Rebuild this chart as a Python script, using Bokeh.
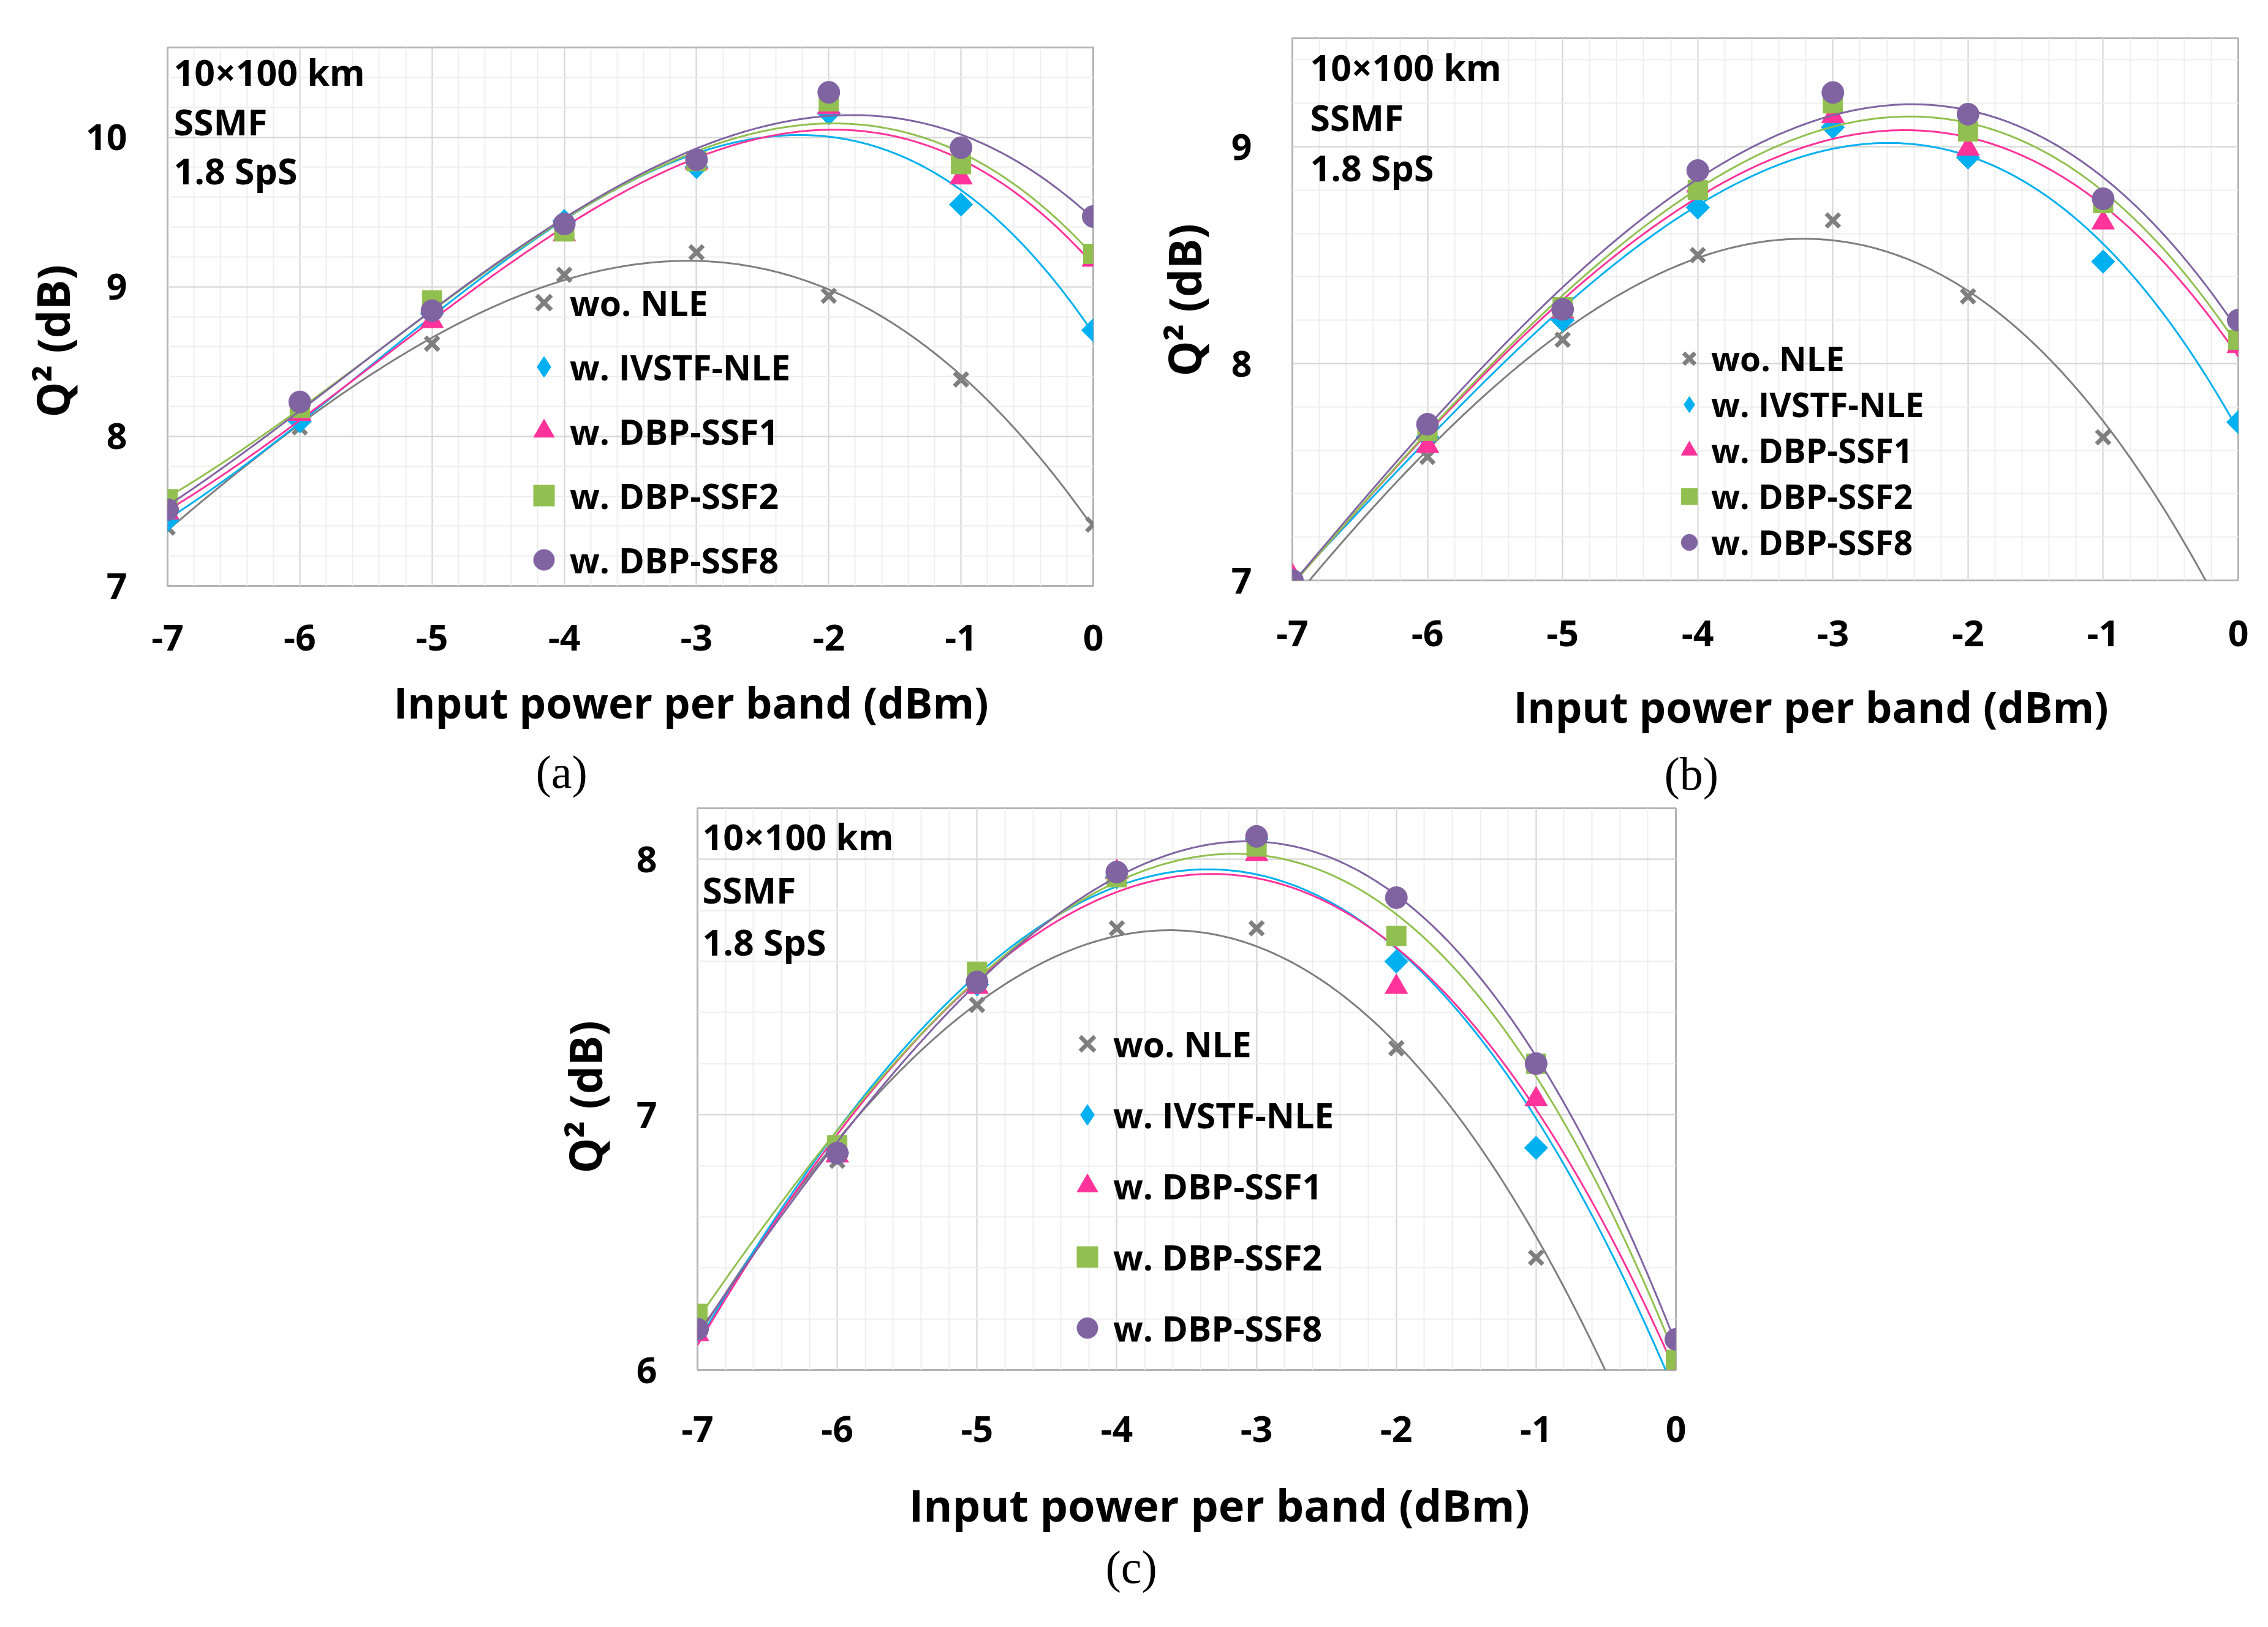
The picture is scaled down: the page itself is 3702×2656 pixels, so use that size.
import numpy as np
from bokeh.plotting import figure
from bokeh.models import Range1d, SingleIntervalTicker, Legend, LegendItem, Label, Spacer, Title
from bokeh.layouts import row, column
from bokeh.embed import file_html
from bokeh.resources import INLINE

# ---------------- data ----------------
power = [-7, -6, -5, -4, -3, -2, -1, 0]
series_names = ["wo. NLE", "w. IVSTF-NLE", "w. DBP-SSF1", "w. DBP-SSF2", "w. DBP-SSF8"]
x_ticks = [-7, -6, -5, -4, -3, -2, -1, 0]

a_wo = [7.39, 8.06, 8.62, 9.08, 9.23, 8.94, 8.38, 7.41]
a_ivstf = [7.44, 8.10, 8.82, 9.44, 9.80, 10.16, 9.55, 8.71]
a_ssf1 = [7.49, 8.15, 8.77, 9.35, 9.83, 10.20, 9.73, 9.18]
a_ssf2 = [7.58, 8.19, 8.91, 9.37, 9.84, 10.24, 9.82, 9.22]
a_ssf8 = [7.51, 8.23, 8.84, 9.42, 9.85, 10.30, 9.93, 9.47]

b_wo = [6.93, 7.57, 8.11, 8.50, 8.66, 8.31, 7.66, 6.75]
b_ivstf = [7.00, 7.66, 8.20, 8.72, 9.09, 8.95, 8.47, 7.73]
b_ssf1 = [7.02, 7.62, 8.24, 8.82, 9.14, 8.99, 8.65, 8.08]
b_ssf2 = [6.99, 7.69, 8.26, 8.80, 9.20, 9.07, 8.74, 8.11]
b_ssf8 = [7.00, 7.72, 8.25, 8.89, 9.25, 9.15, 8.76, 8.20]

c_wo = [6.17, 6.82, 7.43, 7.73, 7.73, 7.26, 6.44, 5.40]
c_ivstf = [6.16, 6.85, 7.51, 7.93, 8.08, 7.60, 6.87, 5.97]
c_ssf1 = [6.14, 6.84, 7.50, 7.95, 8.02, 7.50, 7.06, 6.00]
c_ssf2 = [6.22, 6.88, 7.56, 7.93, 8.05, 7.70, 7.20, 6.04]
c_ssf8 = [6.16, 6.85, 7.52, 7.95, 8.09, 7.85, 7.20, 6.12]

annotation_lines = ["10\u00d7100 km", "SSMF", "1.8 SpS"]
x_title = "Input power per band (dBm)"
y_title = "Q\u00b2 (dB)"

# ---------------- style ----------------
SANS = "Open Sans"
SERIF = "Liberation Serif"
colors = ["#7f7f7f", "#00b0f0", "#ff3399", "#92c050", "#8064a2"]
markers = ["x", "square", "triangle", "square", "circle"]
legend_markers = ["x", "diamond", "triangle", "square", "circle"]
angles = [0, np.pi / 4, 0, 0, 0]
msizes = [31, 27, 37, 32, 36]


def make_panel(vals_list, y_lo, y_hi, frame, borders, legend_cfg, ann_cfg,
               xlab_cfg, ylab_cfg, tag_cfg, tag):
    fw, fh = frame
    bl, br, bt, bb = borders
    p = figure(frame_width=fw, frame_height=fh,
               min_border_left=bl, min_border_right=br,
               min_border_top=bt, min_border_bottom=bb,
               x_range=Range1d(-7, 0), y_range=Range1d(y_lo, y_hi),
               output_backend="svg", toolbar_location=None)
    p.background_fill_color = "white"
    p.border_fill_color = "white"
    p.outline_line_color = "#b4b4b4"
    p.outline_line_width = 3

    xt = SingleIntervalTicker(interval=1, num_minor_ticks=5)
    yt = SingleIntervalTicker(interval=1, num_minor_ticks=5)
    p.xaxis.ticker = xt
    p.yaxis.ticker = yt
    p.xgrid.ticker = xt
    p.ygrid.ticker = yt
    for g in (p.xgrid, p.ygrid):
        g.grid_line_color = "#d6d6d6"
        g.grid_line_width = 2
        g.minor_grid_line_color = "#eeeeee"
        g.minor_grid_line_width = 2

    for ax in (p.xaxis, p.yaxis):
        ax.axis_line_color = None
        ax.major_tick_line_color = None
        ax.minor_tick_line_color = None
        ax.major_tick_out = 0
        ax.major_tick_in = 0
        ax.minor_tick_out = 0
        ax.minor_tick_in = 0
        ax.major_label_text_font = SANS
        ax.major_label_text_font_style = "bold"
        ax.major_label_text_font_size = "59px"
        ax.major_label_text_color = "black"
    p.xaxis.major_label_overrides = {t: str(t) for t in x_ticks}
    xstand, xoff, xts, xfs = xlab_cfg
    p.xaxis.major_label_standoff = xstand
    p.yaxis.major_label_standoff = 66

    # axis titles (side titles, so their offsets can follow the reference)
    p.add_layout(Title(text=x_title, align="left", offset=xoff, standoff=xts,
                       text_font=SANS, text_font_size=xfs, text_font_style="bold",
                       text_color="black"), "below")
    yoff, yts = ylab_cfg
    p.add_layout(Title(text=y_title, align="left", offset=yoff, standoff=yts,
                       text_font=SANS, text_font_size="73px", text_font_style="bold",
                       text_color="black"), "left")

    xs = np.linspace(-7, 0, 281)
    items = []
    for i, vals in enumerate(vals_list):
        coef = np.polyfit(power, vals, 3)
        p.line(xs, np.polyval(coef, xs), line_color=colors[i], line_width=3)
        if markers[i] == "x":
            r = p.scatter(power, vals, marker="x", size=msizes[i], line_color=colors[i],
                          line_width=7)
        else:
            r = p.scatter(power, vals, marker=markers[i], size=msizes[i], angle=angles[i],
                          fill_color=colors[i], line_color=colors[i], line_width=1)
        if legend_markers[i] != markers[i]:
            r = p.scatter([np.nan], [np.nan], marker=legend_markers[i], size=msizes[i],
                          fill_color=colors[i], line_color=colors[i], line_width=1)
        items.append(LegendItem(label=series_names[i], renderers=[r]))

    lx, ly, gw, gh, spacing, lfs = legend_cfg
    legend = Legend(items=items, location=(lx, ly), orientation="vertical")
    legend.background_fill_alpha = 0
    legend.border_line_alpha = 0
    legend.padding = 0
    legend.margin = 0
    legend.spacing = spacing
    legend.glyph_width = gw
    legend.glyph_height = gh
    legend.label_height = 20
    legend.label_standoff = -4
    legend.label_text_font = SANS
    legend.label_text_font_style = "bold"
    legend.label_text_font_size = lfs
    legend.label_text_color = "black"
    p.add_layout(legend)

    ax_x, base_ys = ann_cfg
    for txt, by in zip(annotation_lines, base_ys):
        p.add_layout(Label(x=ax_x, y=by, x_units="screen", y_units="screen", text=txt,
                           text_font=SANS, text_font_style="bold", text_font_size="59px",
                           text_color="black", text_baseline="alphabetic", text_align="left"))
    toff, tstand = tag_cfg
    p.add_layout(Title(text=tag, align="left", offset=toff, standoff=tstand,
                       text_font=SERIF, text_font_size="76px", text_font_style="normal",
                       text_color="black"), "below")
    return p


pa = make_panel([a_wo, a_ivstf, a_ssf1, a_ssf2, a_ssf8], 7, 10.6,
                frame=(1511, 879), borders=(273, 66, 62, 353),
                legend_cfg=(572, 0, 85, 85, 20, "57px"),
                ann_cfg=(10, [840, 759, 679]),
                xlab_cfg=(63, 369, 64, "69px"), ylab_cfg=(275, 6),
                tag_cfg=(601, -18), tag="(a)")
pb = make_panel([b_wo, b_ivstf, b_ssf1, b_ssf2, b_ssf8], 7, 9.5,
                frame=(1544, 885), borders=(259, 45, 62, 362),
                legend_cfg=(612, 25, 72, 66, 0, "55px"),
                ann_cfg=(29, [839, 757, 675]),
                xlab_cfg=(65, 361, 92, "69px"), ylab_cfg=(333, 50),
                tag_cfg=(607, -54), tag="(b)")
pc = make_panel([c_wo, c_ivstf, c_ssf1, c_ssf2, c_ssf8], 6, 8.2,
                frame=(1597, 917), borders=(300, 100, 10, 414),
                legend_cfg=(594, 26, 85, 85, 31, "57px"),
                ann_cfg=(8, [872, 785, 700]),
                xlab_cfg=(75, 345, 96, "72px"), ylab_cfg=(321, 64),
                tag_cfg=(666, -78), tag="(c)")

top_row = row(column(Spacer(width=1850, height=15), pa), pb)
bottom_row = row(Spacer(width=838, height=10), pc)
layout = column(top_row, bottom_row)

open("out.html", "w").write(file_html(layout, INLINE, title="Q2 vs input power"))
